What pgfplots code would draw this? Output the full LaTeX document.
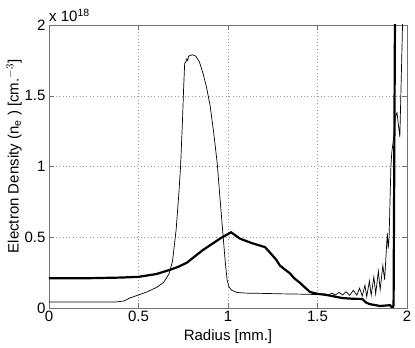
\documentclass[border=0pt]{standalone}
\usepackage{fontspec}
\setmainfont{Liberation Sans}
\usepackage{pgfplots}
\pgfplotsset{compat=1.18}

\begin{document}
\begin{tikzpicture}
\begin{axis}[name=ax,scale only axis,width=358pt,height=283pt,
	xmin=0,xmax=2,ymin=0,ymax=2,
	xtick={0,0.5,1,1.5,2},ytick={0,0.5,1,1.5,2},
	scaled ticks=false,
	/pgf/number format/assume math mode=true,
	font=\fontsize{15}{18}\selectfont,
	tick label style={font=\fontsize{15}{18}\selectfont},
	tick align=inside,tick pos=both,major tick length=5pt,
	axis line style={black!55},
	tick style={black!55},
	grid=major,grid style={dash pattern=on 0.8pt off 2.6pt,black!40},
	xlabel={Radius [mm.]},
	ylabel={Electron Density (n$_{\mathrm{e}}$ ) [cm.$^{-3}$]},
	xlabel style={yshift=-1pt},
	ylabel style={yshift=-4pt,xshift=10pt},
	clip=true]
\addplot[black,line width=0.7pt] coordinates {
(0,0.042) (0.1,0.042) (0.2,0.042) (0.3,0.042) (0.38,0.043) (0.42,0.05)
(0.45,0.07) (0.5,0.092) (0.55,0.115) (0.6,0.145) (0.64,0.18) (0.67,0.24)
(0.69,0.33) (0.71,0.55) (0.725,0.8) (0.735,1.0) (0.745,1.3) (0.752,1.55)
(0.758,1.73) (0.765,1.74) (0.77,1.76) (0.775,1.75) (0.78,1.78) (0.79,1.785)
(0.80,1.79) (0.82,1.78) (0.84,1.74) (0.86,1.66) (0.88,1.56) (0.90,1.43)
(0.92,1.24) (0.94,1.02) (0.955,0.78) (0.97,0.55) (0.985,0.32) (0.995,0.2)
(1.005,0.15) (1.02,0.125) (1.05,0.11) (1.1,0.105) (1.2,0.103) (1.3,0.1)
(1.4,0.098) (1.5,0.095) (1.54,0.1) (1.56,0.092) (1.58,0.105) (1.60,0.092)
(1.62,0.11) (1.64,0.092) (1.66,0.115) (1.68,0.09) (1.70,0.125) (1.72,0.09)
(1.735,0.14) (1.75,0.085) (1.765,0.16) (1.775,0.08) (1.79,0.19) (1.8,0.09)
(1.815,0.22) (1.825,0.1) (1.84,0.26) (1.85,0.13) (1.865,0.3) (1.875,0.2)
(1.89,0.53) (1.895,0.42) (1.9,0.5) (1.91,1.0) (1.915,1.1) (1.925,1.2)
(1.935,1.35) (1.944,1.38) (1.96,1.21) (1.977,2.1)
};
\addplot[black,line width=2.2pt] coordinates {
(0,0.21) (0.2,0.21) (0.4,0.215) (0.5,0.22) (0.6,0.24) (0.676,0.27)
(0.72,0.29) (0.77,0.32) (0.86,0.41) (0.955,0.49) (1.017,0.535) (1.067,0.49)
(1.13,0.46) (1.207,0.43) (1.246,0.375) (1.27,0.34) (1.29,0.30) (1.32,0.27)
(1.346,0.245) (1.37,0.21) (1.40,0.18) (1.43,0.145) (1.458,0.113) (1.5,0.1)
(1.55,0.092) (1.6,0.08) (1.64,0.07) (1.7,0.065) (1.75,0.064) (1.77,0.04)
(1.79,0.028) (1.85,0.014) (1.905,0.02) (1.92,0.0) (1.925,0.02) (1.933,2.1)
};
\end{axis}
\node[anchor=south west,inner sep=0pt,font=\fontsize{15}{18}\selectfont]
	at ([xshift=0pt,yshift=3pt]ax.north west) {x 10$^{\mathrm{18}}$};
\path ([xshift=-49pt,yshift=-38pt]ax.south west) rectangle ([xshift=8pt,yshift=25pt]ax.north east);
\end{tikzpicture}
\end{document}
